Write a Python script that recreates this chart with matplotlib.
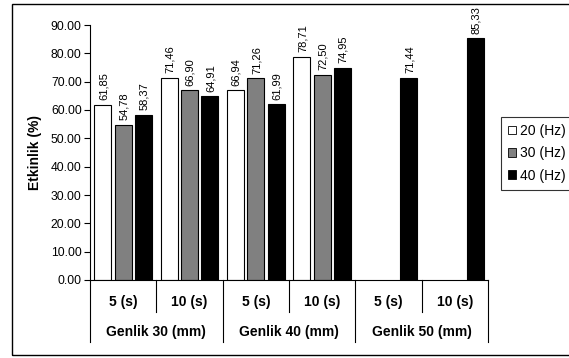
import matplotlib
matplotlib.use("Agg")
import matplotlib.pyplot as plt
from matplotlib.patches import Rectangle, Patch
import numpy as np

plt.rcParams['font.family'] = ['Liberation Sans', 'DejaVu Sans']

# Data
sure_labels = ["5 (s)", "10 (s)", "5 (s)", "10 (s)", "5 (s)", "10 (s)"]
genlik_labels = ["Genlik 30 (mm)", "Genlik 40 (mm)", "Genlik 50 (mm)"]
series_names = ["20 (Hz)", "30 (Hz)", "40 (Hz)"]
hz20 = [61.85, 71.46, 66.94, 78.71, None, None]
hz30 = [54.78, 66.90, 71.26, 72.50, None, None]
hz40 = [58.37, 64.91, 61.99, 74.95, 71.44, 85.33]
y_ticks = [0, 10, 20, 30, 40, 50, 60, 70, 80, 90]

W, H = 569, 358
fig = plt.figure(figsize=(W / 100, H / 100), dpi=100)
ax = fig.add_axes([90 / W, 1 - 280 / H, (488 - 90) / W, (280 - 25) / H])

colors = ["white", "#808080", "black"]
offsets = [-0.306, 0.0, 0.306]
width = 0.257
x = np.arange(len(sure_labels))

for vals, col, off in zip([hz20, hz30, hz40], colors, offsets):
    for xi, v in zip(x, vals):
        if v is None:
            continue
        ax.bar(xi + off, v, width=width, color=col, edgecolor="black", linewidth=0.8)
        ax.annotate(f"{v:.2f}".replace(".", ","), xy=(xi + off, v), xytext=(0.5, 3.3),
                    textcoords="offset points", rotation=90, ha="center", va="bottom",
                    fontsize=8)

ax.set_xlim(-0.5, 5.5)
ax.set_ylim(0, 90)
ax.set_yticks(y_ticks)
ax.set_yticklabels([f"{t:.2f}" for t in y_ticks], fontsize=8.7)
ax.tick_params(axis="y", length=4, width=0.8, pad=2)
ax.set_xticks([])
for s in ["top", "right"]:
    ax.spines[s].set_visible(False)
for s in ["left", "bottom"]:
    ax.spines[s].set_linewidth(0.8)
ax.set_ylabel("Etkinlik (%)", fontsize=10, fontweight="bold", labelpad=6)

# Two-level category axis
tr = ax.get_xaxis_transform()
short_y = -(312 - 280) / 255
long_y = -(342 - 280) / 255
for b in np.arange(-0.5, 6.0, 1.0):
    is_group = abs(((b + 0.5) % 2)) < 1e-9
    ax.plot([b, b], [0, long_y if is_group else short_y], color="black", lw=0.8,
            transform=tr, clip_on=False)
for xi, lab in zip(x, sure_labels):
    ax.text(xi, -(302 - 280) / 255, lab, transform=tr, ha="center", va="center",
            fontsize=10, fontweight="bold")
for gi, lab in enumerate(genlik_labels):
    ax.text(2 * gi + 0.5, -(332 - 280) / 255, lab, transform=tr, ha="center", va="center",
            fontsize=10, fontweight="bold")

# Outer chart border
fig.add_artist(Rectangle((11.5 / W, 1 - 355 / H), (W + 5 - 11.5) / W, (355 - 3.5) / H,
                         transform=fig.transFigure, fill=False, edgecolor="black",
                         linewidth=1.0, clip_on=False))

handles = [Patch(facecolor=c, edgecolor="black", linewidth=0.6) for c in colors]
leg = fig.legend(handles, series_names, loc="upper left",
                 bbox_to_anchor=(501 / W, 1 - 117 / H), fontsize=10, frameon=True,
                 fancybox=False, edgecolor="black", handlelength=0.6, handleheight=0.6,
                 handletextpad=0.25, borderpad=0.5, labelspacing=0.6, borderaxespad=0)
leg.get_frame().set_linewidth(0.8)

fig.savefig("out.png", dpi=100)
